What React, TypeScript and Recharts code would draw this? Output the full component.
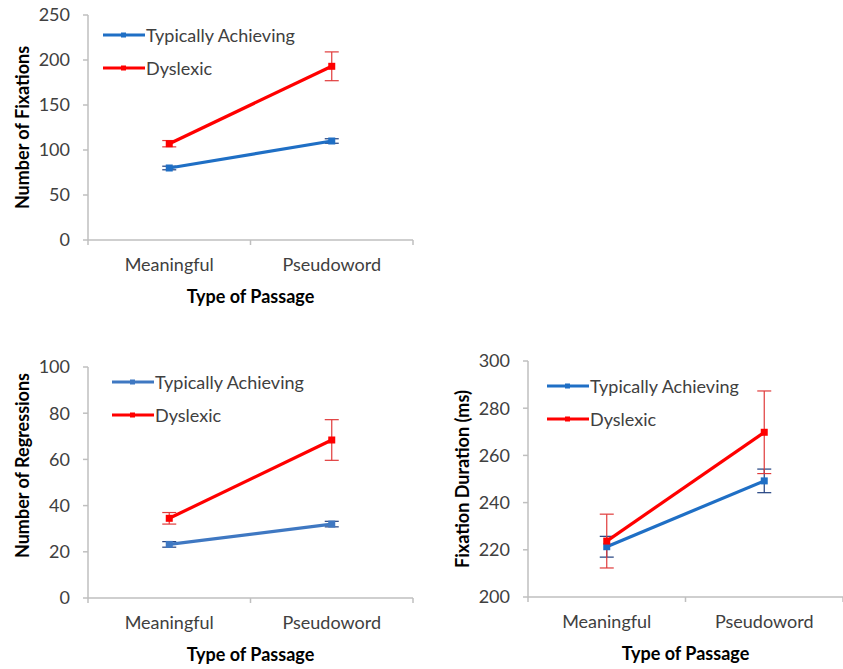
import React from 'react';
import { LineChart, Line, XAxis, YAxis, ErrorBar, Legend } from 'recharts';

const categories = ['Meaningful', 'Pseudoword'];
const seriesNames = ['Typically Achieving', 'Dyslexic'];

const fixationsTA = [80, 110];
const fixationsTAErr = [2, 2.5];
const fixationsDys = [107, 193];
const fixationsDysErr = [3.5, 16];

const regressionsTA = [23.2, 32];
const regressionsTAErr = [1.2, 1.2];
const regressionsDys = [34.5, 68.4];
const regressionsDysErr = [2.5, 8.8];

const durationTA = [221.3, 249.2];
const durationTAErr = [4.4, 5];
const durationDys = [223.7, 269.8];
const durationDysErr = [11.4, 17.5];

const fixationTicks = [0, 50, 100, 150, 200, 250];
const regressionTicks = [0, 20, 40, 60, 80, 100];
const durationTicks = [200, 220, 240, 260, 280, 300];

const xTicks = [0, 0.5, 1, 1.5, 2];

const FONT = 'Lato, "Open Sans", sans-serif';
const BLUE = '#1f6fc5';
const RED = '#ff0000';
const BLUE_ERR = '#1f3f7f';
const RED_ERR = '#e03a3a';
const AXIS = '#bfbfbf';
const TEXT = '#404040';
const FS = 18;

function buildData(ta: number[], taErr: number[], dys: number[], dysErr: number[]) {
  return categories.map((c, i) => ({
    x: i + 0.5,
    name: c,
    ta: ta[i],
    taErr: taErr[i],
    dys: dys[i],
    dysErr: dysErr[i],
  }));
}

const XTick = (props: any) => {
  const { x, y, payload } = props;
  const v = payload.value;
  if (Number.isInteger(v)) {
    return <line x1={x} x2={x} y1={y} y2={y + 5} stroke={AXIS} strokeWidth={1.5} />;
  }
  return (
    <text x={x} y={y + 31} textAnchor="middle" fontFamily={FONT} fontSize={FS} fill={TEXT}>
      {categories[Math.floor(v)]}
    </text>
  );
};

const squareDot = (color: string) => (p: any) => {
  const { cx, cy, index } = p;
  if (cx == null || cy == null) return <g key={`d${index}`} />;
  return <rect key={`d${index}`} x={cx - 3.5} y={cy - 3.5} width={7} height={7} fill={color} />;
};

const colorsFor = (name: string, taColor: string) => (name === seriesNames[0] ? taColor : RED);

type PanelProps = {
  left: number;
  top: number;
  width: number;
  height: number;
  marginTop: number;
  marginLeft: number;
  marginRight: number;
  xAxisHeight: number;
  ticks: number[];
  yLabel: string;
  yLabelShift: number;
  data: any[];
  legendLeft: number;
  legendTop: number;
  taColor: string;
};

const Panel = (p: PanelProps) => {
  const renderLegend = () => (
    <div style={{ fontFamily: FONT, fontSize: FS, color: TEXT }}>
      {seriesNames.map((n) => {
        const c = colorsFor(n, p.taColor);
        return (
          <div key={n} style={{ display: 'flex', alignItems: 'center', height: 33, whiteSpace: 'nowrap' }}>
            <svg width={42} height={10} style={{ display: 'block' }}>
              <line x1={0} x2={42} y1={5} y2={5} stroke={c} strokeWidth={3} />
              <rect x={18} y={2.5} width={5} height={5} fill={c} />
            </svg>
            <span style={{ marginLeft: 1 }}>{n}</span>
          </div>
        );
      })}
    </div>
  );

  return (
    <div style={{ position: 'absolute', left: p.left, top: p.top, width: p.width, height: p.height }}>
      <LineChart
        width={p.width}
        height={p.height}
        data={p.data}
        margin={{ top: p.marginTop, right: p.marginRight, left: p.marginLeft, bottom: 0 }}
      >
        <XAxis
          dataKey="x"
          type="number"
          domain={[0, 2]}
          ticks={xTicks}
          interval={0}
          height={p.xAxisHeight}
          tickSize={0}
          tickMargin={0}
          tickLine={false}
          axisLine={{ stroke: AXIS, strokeWidth: 1.5 }}
          tick={<XTick />}
          label={{
            content: (lp: any) => {
              const vb = lp.viewBox;
              return (
                <text
                  x={vb.x + vb.width / 2}
                  y={vb.y + 63}
                  textAnchor="middle"
                  fontFamily={FONT}
                  fontWeight="bold"
                  fontSize={FS}
                  fill="#000"
                >
                  Type of Passage
                </text>
              );
            },
          }}
        />
        <YAxis
          type="number"
          domain={[p.ticks[0], p.ticks[p.ticks.length - 1]]}
          ticks={p.ticks}
          interval={0}
          width={40}
          tickSize={5}
          tickMargin={13}
          tickLine={{ stroke: AXIS, strokeWidth: 1.5 }}
          axisLine={{ stroke: AXIS, strokeWidth: 1.5 }}
          tick={{ fontFamily: FONT, fontSize: FS, fill: TEXT }}
          label={{
            content: (lp: any) => {
              const vb = lp.viewBox;
              const cx = vb.x + vb.width - 66;
              const cy = vb.y + vb.height / 2 + p.yLabelShift;
              return (
                <text
                  x={cx}
                  y={cy}
                  transform={`rotate(-90 ${cx} ${cy})`}
                  textAnchor="middle"
                  dominantBaseline="central"
                  fontFamily={FONT}
                  fontWeight="bold"
                  fontSize={FS}
                  fill="#000"
                >
                  {p.yLabel}
                </text>
              );
            },
          }}
        />
        <Legend
          layout="vertical"
          align="center"
          verticalAlign="middle"
          content={renderLegend}
          wrapperStyle={{ position: 'absolute', left: p.legendLeft, top: p.legendTop, width: 'auto', height: 'auto' }}
        />
        <Line
          name={seriesNames[0]}
          dataKey="ta"
          type="linear"
          stroke={p.taColor}
          strokeWidth={3.2}
          dot={squareDot(p.taColor)}
          activeDot={false}
          isAnimationActive={false}
        >
          <ErrorBar dataKey="taErr" direction="y" width={7} strokeWidth={1.2} stroke={BLUE_ERR} />
        </Line>
        <Line
          name={seriesNames[1]}
          dataKey="dys"
          type="linear"
          stroke={RED}
          strokeWidth={3.2}
          dot={squareDot(RED)}
          activeDot={false}
          isAnimationActive={false}
        >
          <ErrorBar dataKey="dysErr" direction="y" width={7} strokeWidth={1.2} stroke={RED_ERR} />
        </Line>
      </LineChart>
    </div>
  );
};

export default function App() {
  const fixData = buildData(fixationsTA, fixationsTAErr, fixationsDys, fixationsDysErr);
  const regData = buildData(regressionsTA, regressionsTAErr, regressionsDys, regressionsDysErr);
  const durData = buildData(durationTA, durationTAErr, durationDys, durationDysErr);
  return (
    <div style={{ position: 'absolute', left: 0, top: 0, width: 843, height: 669, background: '#fff', overflow: 'hidden' }}>
      <Panel
        left={0}
        top={0}
        width={420}
        height={320}
        marginTop={15}
        marginLeft={48}
        marginRight={7}
        xAxisHeight={80}
        ticks={fixationTicks}
        yLabel="Number of Fixations"
        yLabelShift={0}
        data={fixData}
        legendLeft={103}
        legendTop={18}
        taColor={BLUE}
      />
      <Panel
        left={0}
        top={340}
        width={420}
        height={329}
        marginTop={27}
        marginLeft={48}
        marginRight={7}
        xAxisHeight={71}
        ticks={regressionTicks}
        yLabel="Number of Regressions"
        yLabelShift={-17}
        data={regData}
        legendLeft={112}
        legendTop={25}
        taColor="#3f78c2"
      />
      <Panel
        left={430}
        top={330}
        width={413}
        height={339}
        marginTop={31}
        marginLeft={58}
        marginRight={0}
        xAxisHeight={72}
        ticks={durationTicks}
        yLabel="Fixation Duration (ms)"
        yLabelShift={0}
        data={durData}
        legendLeft={117}
        legendTop={39}
        taColor={BLUE}
      />
    </div>
  );
}
